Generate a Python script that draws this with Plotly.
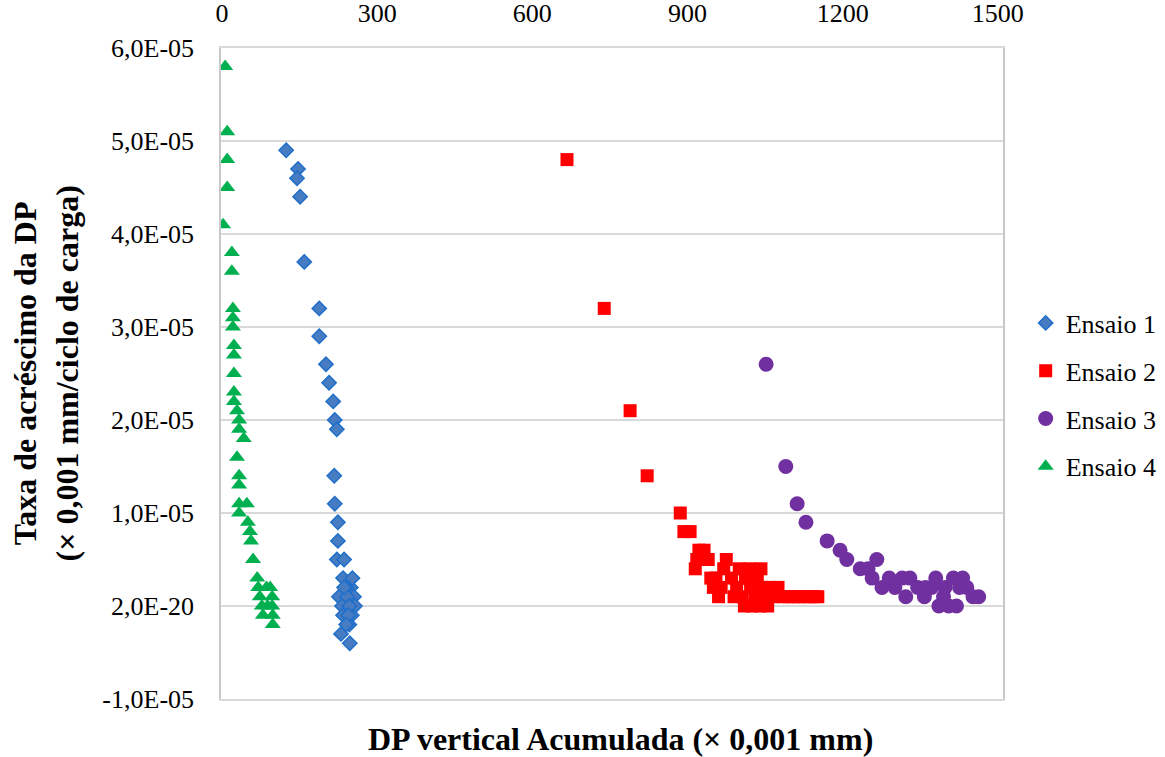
import plotly.graph_objects as go

# Ensaio 1 – DP vertical acumulada (x 0,001 mm) and taxa de acréscimo (x 1E-05)
ens1_x = [124, 147, 145, 151, 159, 188, 188, 201, 207, 215, 218, 222, 217, 218,
          224, 224, 222, 236, 234, 249, 226, 255, 232, 257, 251, 234, 246, 230,
          247, 240, 242, 246, 236, 244, 240, 252]
ens1_y = [4.9, 4.7, 4.6, 4.4, 3.7, 3.2, 2.9, 2.6, 2.4, 2.2, 2.0, 1.9, 1.4, 1.1,
          0.9, 0.7, 0.5, 0.5, 0.3, 0.2, 0.1, 0.1, 0.0, 0.0, -0.1, -0.1, -0.2, -0.3,
          -0.4, 0.2, 0.1, 0.0, 0.2, -0.1, -0.2, 0.3]

# Ensaio 2
ens2_x = [667, 739, 789, 822, 886, 893, 905, 915, 918, 922, 932, 940, 945, 955,
          960, 965, 975, 985, 995, 1000, 1005, 1010, 1015, 1020, 1022, 1025, 1030,
          1035, 1040, 1045, 1050, 1055, 1060, 1065, 1075, 1085, 1095, 1105, 1115,
          1125, 1135, 1145, 1152, 950, 970, 990, 1012, 1042]
ens2_y = [4.8, 3.2, 2.1, 1.4, 1.0, 0.8, 0.8, 0.4, 0.5, 0.6, 0.6, 0.5, 0.3, 0.3,
          0.1, 0.2, 0.5, 0.3, 0.2, 0.4, 0.1, 0.0, 0.3, 0.4, 0.2, 0.0, 0.1,
          0.3, 0.0, 0.2, 0.1, 0.0, 0.2, 0.1, 0.2, 0.1, 0.1, 0.1, 0.1,
          0.1, 0.1, 0.1, 0.1, 0.2, 0.4, 0.1, 0.3, 0.4]

# Ensaio 3
ens3_x = [1052, 1090, 1112, 1129, 1170, 1195, 1208, 1234, 1249, 1266, 1257, 1276,
          1301, 1315, 1330, 1345, 1358, 1372, 1395, 1414, 1420, 1405, 1386, 1426,
          1440, 1452, 1463, 1290, 1322, 1360, 1380, 1398, 1432]
ens3_y = [2.6, 1.5, 1.1, 0.9, 0.7, 0.6, 0.5, 0.4, 0.4, 0.5, 0.3, 0.2,
          0.2, 0.3, 0.3, 0.2, 0.1, 0.2, 0.1, 0.3, 0.0, 0.0, 0.0, 0.2,
          0.2, 0.1, 0.1, 0.3, 0.1, 0.2, 0.3, 0.2, 0.3]

# Ensaio 4
ens4_x = [6, 10, 10, 10, 2, 19, 19, 21, 21, 21, 23, 23, 23, 23, 23, 29, 33, 33,
          42, 29, 33, 33, 33, 48, 33, 50, 54, 56, 60, 68, 70, 93, 73, 97, 77, 97,
          79, 98, 98, 86, 88]
ens4_y = [5.8, 5.1, 4.8, 4.5, 4.1, 3.8, 3.6, 3.2, 3.1, 3.0, 2.8, 2.7, 2.5, 2.3,
          2.2, 2.1, 2.0, 1.9, 1.8, 1.6, 1.4, 1.3, 1.1, 1.1, 1.0, 0.9, 0.8, 0.7,
          0.5, 0.3, 0.2, 0.2, 0.1, 0.1, 0.0, 0.0, -0.1, -0.1, -0.2, 0.2, 0.0]

# y values are read in units of 1E-05
scale = 1e-5

x_ticks = [0, 300, 600, 900, 1200, 1500]
y_tickvals = [-1e-5, 2e-20, 1e-5, 2e-5, 3e-5, 4e-5, 5e-5, 6e-5]
y_ticktext = ["-1,0E-05", "2,0E-20", "1,0E-05", "2,0E-05", "3,0E-05",
              "4,0E-05", "5,0E-05", "6,0E-05"]

FONT = "Liberation Serif"
GRID = "#D9D9D9"

series = [
    ("Ensaio 1", ens1_x, ens1_y, dict(symbol="diamond", size=11, color="#477CC2",
                                      line=dict(color="#1F6FCA", width=1.5))),
    ("Ensaio 2", ens2_x, ens2_y, dict(symbol="square", size=13, color="#FF0000",
                                      line=dict(width=0))),
    ("Ensaio 3", ens3_x, ens3_y, dict(symbol="circle", size=15, color="#7030A0",
                                      line=dict(width=0))),
    ("Ensaio 4", ens4_x, ens4_y, dict(symbol="triangle-up", size=14, color="#00B050",
                                      line=dict(width=0))),
]

fig = go.Figure()
for name, xs, ys, mk in series:
    fig.add_trace(go.Scatter(
        x=xs, y=[v * scale for v in ys], mode="markers", name=name,
        marker=mk, legendgroup=name,
    ))

fig.update_layout(
    width=1165, height=757,
    margin=dict(l=221, r=162, t=48, b=58, autoexpand=False),
    paper_bgcolor="white", plot_bgcolor="white",
    font=dict(family=FONT, size=26, color="black"),
    showlegend=True,
    legend=dict(x=1.029, y=0.467, xanchor="left", yanchor="middle",
                font=dict(family=FONT, size=26), tracegroupgap=11,
                itemwidth=30, bgcolor="rgba(0,0,0,0)"),
    xaxis=dict(side="top", range=[-2, 1510], tickvals=x_ticks, automargin=False,
               showgrid=False, zeroline=False, showline=True, mirror=True,
               linecolor=GRID, linewidth=1.5,
               ticks="outside", ticklen=14, tickcolor="rgba(0,0,0,0)",
               tickfont=dict(family=FONT, size=26)),
    yaxis=dict(range=[-1e-5, 6e-5], tickvals=y_tickvals, ticktext=y_ticktext,
               automargin=False,
               showgrid=True, gridcolor=GRID, gridwidth=1.5, zeroline=False,
               showline=True, mirror=True, linecolor="#C8C8C8", linewidth=1.5,
               ticks="outside", ticklen=20, tickcolor="rgba(0,0,0,0)",
               tickfont=dict(family=FONT, size=26)),
    annotations=[
        dict(text="<b>DP vertical Acumulada (× 0,001 mm)</b>", xref="paper", yref="paper",
             x=0.5115, y=-0.062, xanchor="center", yanchor="middle", showarrow=False,
             font=dict(family=FONT, size=32)),
        dict(text="<b>Taxa de acréscimo da DP<br>(× 0,001 mm/ciclo de carga)</b>",
             xref="paper", yref="paper", x=-0.2238, y=0.5, xanchor="center",
             yanchor="middle", textangle=-90, showarrow=False,
             font=dict(family=FONT, size=32)),
    ],
)

fig.write_html("out.html")
